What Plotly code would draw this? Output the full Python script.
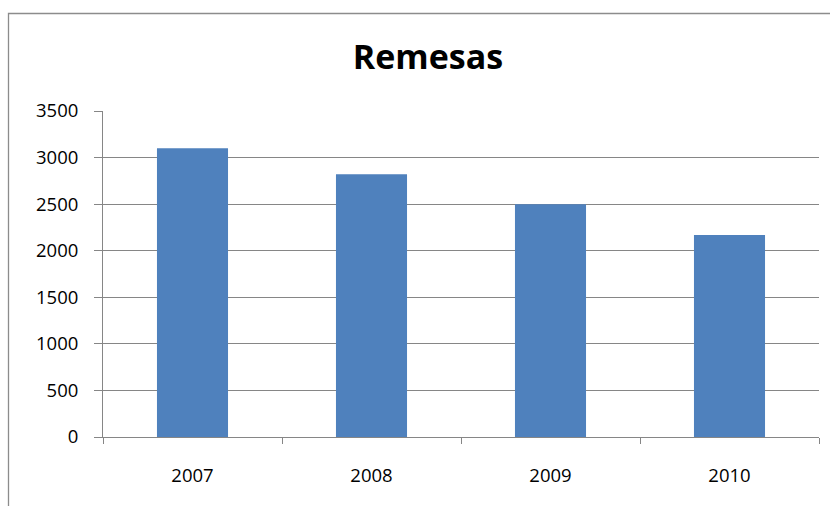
import plotly.graph_objects as go

years = ["2007", "2008", "2009", "2010"]
remesas = [3100, 2820, 2500, 2170]
y_ticks = [0, 500, 1000, 1500, 2000, 2500, 3000, 3500]

W, H = 830, 506
L, R, T, B = 103, 11, 111, 69
pw, ph = W - L - R, H - T - B

def px_x(p):
    return (p - L) / pw

def px_y(p):
    return (H - B - p) / ph

fig = go.Figure()
fig.add_trace(go.Bar(
    x=years, y=remesas,
    marker=dict(color="#4F81BD", line=dict(width=0)),
    hoverinfo="x+y",
))

grid = "#868686"
font_fam = "Open Sans, Lato, sans-serif"

fig.update_layout(
    width=W, height=H,
    margin=dict(l=L, r=R, t=T, b=B),
    paper_bgcolor="white", plot_bgcolor="white",
    bargap=0.603,
    showlegend=False,
    title=dict(
        text="<b>Remesas</b>",
        font=dict(family=font_fam, size=34, color="black"),
        xref="paper", x=px_x(428), xanchor="center",
        yref="container", y=1 - 57 / H, yanchor="middle",
    ),
    font=dict(family=font_fam, size=18.5, color="black"),
    xaxis=dict(
        type="category",
        showline=True, linecolor=grid, linewidth=1,
        ticks="outside", tickson="boundaries", ticklen=6, tickcolor=grid, tickwidth=1,
        showgrid=False,
        ticklabelstandoff=22,
        tickfont=dict(family=font_fam, size=18.5, color="black"),
    ),
    yaxis=dict(
        range=[0, 3500],
        tickvals=y_ticks,
        ticktext=[str(v) for v in y_ticks],
        showline=True, linecolor=grid, linewidth=1,
        ticks="outside", ticklen=8, tickcolor=grid, tickwidth=1,
        showgrid=True, gridcolor=grid, gridwidth=1,
        zeroline=False,
        ticklabelstandoff=12,
        tickfont=dict(family=font_fam, size=18.5, color="black"),
    ),
    shapes=[
        dict(type="rect", xref="paper", yref="paper",
             x0=px_x(8.5), x1=px_x(845), y0=px_y(525), y1=px_y(13.5),
             line=dict(color="#8c8c8c", width=1.3), fillcolor="rgba(0,0,0,0)",
             layer="below"),
    ],
)

fig.write_html(
    "out.html",
    config={"displayModeBar": False},
    post_script="document.body.style.margin='0';document.body.style.overflow='hidden';",
)
